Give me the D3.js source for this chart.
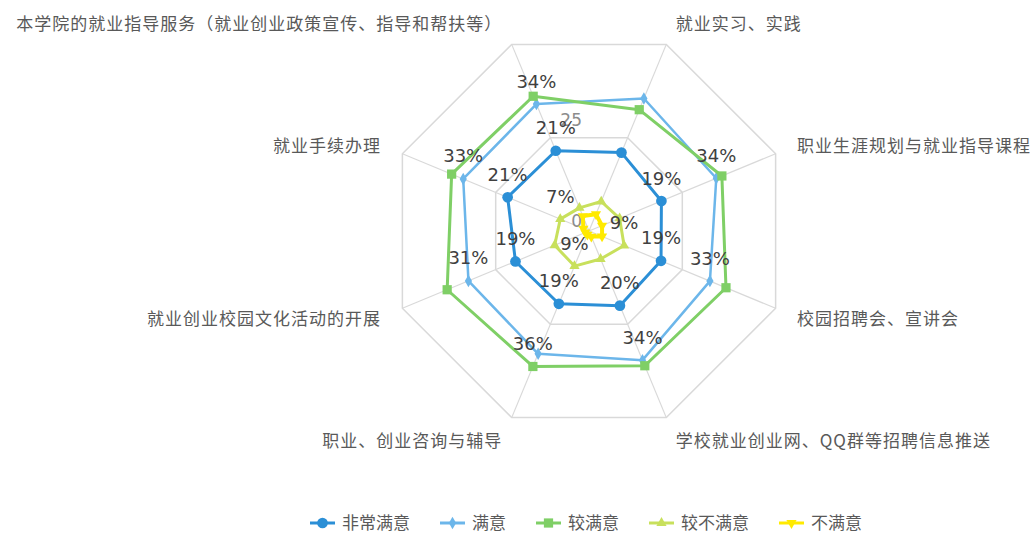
<!DOCTYPE html>
<html>
<head>
<meta charset="utf-8">
<script src="https://cdn.jsdelivr.net/npm/d3@7"></script>
<style>
  body { margin: 0; background: #fff; }
  .grid { fill: none; stroke: #d9d9d9; stroke-width: 1.5; }
  .axis { stroke: #d9d9d9; stroke-width: 1.2; }
  .cat { font-family: "Noto Sans CJK SC", sans-serif; font-size: 17px; fill: #595959; letter-spacing: 1px; }
  .val { font-family: "DejaVu Sans", sans-serif; font-size: 18px; fill: #404040; }
  .tick { font-family: "DejaVu Sans", sans-serif; font-size: 17px; fill: #8c8c8c; }
  .legend text { font-family: "Noto Sans CJK SC", sans-serif; font-size: 17px; fill: #595959; }
</style>
</head>
<body>
<svg width="1033" height="533"></svg>
<script>
const categories = [
  "本学院的就业指导服务（就业创业政策宣传、指导和帮扶等）",
  "就业实习、实践",
  "职业生涯规划与就业指导课程",
  "校园招聘会、宣讲会",
  "学校就业创业网、QQ群等招聘信息推送",
  "职业、创业咨询与辅导",
  "就业创业校园文化活动的开展",
  "就业手续办理"
];

const seriesNames = ["非常满意", "满意", "较满意", "较不满意", "不满意"];

const veryValues      = [21.5, 21.0, 19.4, 19.3, 20.0, 19.5, 19.7, 21.8];
const satisfiedValues = [34.0, 35.5, 34.1, 32.4, 34.6, 32.9, 32.3, 33.7];
const fairValues      = [36.1, 32.5, 35.6, 36.7, 36.1, 36.3, 38.0, 36.8];
const lowValues       = [6.2, 7.9, 8.2, 9.4, 7.5, 9.4, 9.2, 7.7];
const unsatValues     = [4.0, 4.5, 3.5, 3.5, 1.5, 1.0, 1.0, 1.5];

// data labels as printed on the chart (null = not shown)
const veryLabels      = ["21%", null, "19%", "19%", "20%", "19%", "19%", "21%"];
const satisfiedLabels = ["34%", null, "34%", "33%", "34%", null, "31%", "33%"];
const fairLabels      = [null, null, null, null, null, "36%", null, null];
const lowLabels       = [null, null, null, "9%", null, "9%", null, "7%"];
const unsatLabels     = [null, null, null, null, null, null, null, null];

const gridValues = [25, 50];
const tickValues = [0, 25];

const svg = d3.select("svg");
const cx = 589, cy = 231;

const r = d3.scaleLinear().domain([0, 50]).range([0, 202]);
const angle = d3.scaleLinear()
  .domain([0, categories.length])
  .range([-Math.PI / 8, 2 * Math.PI - Math.PI / 8]);

const series = [
  {name: seriesNames[0], values: veryValues,      labels: veryLabels,      color: "#2b8fd6", width: 3,   symbol: d3.symbolCircle,   size: 90},
  {name: seriesNames[1], values: satisfiedValues, labels: satisfiedLabels, color: "#6cb6ea", width: 2.5, symbol: d3.symbolDiamond,  size: 45},
  {name: seriesNames[2], values: fairValues,      labels: fairLabels,      color: "#7fcf66", width: 3,   symbol: d3.symbolSquare,   size: 85},
  {name: seriesNames[3], values: lowValues,       labels: lowLabels,       color: "#c8e05c", width: 3,   symbol: d3.symbolTriangle, size: 45},
  {name: seriesNames[4], values: unsatValues,     labels: unsatLabels,     color: "#ffea00", width: 4,   symbol: d3.symbolTriangle, size: 45, flip: true}
];

function px(i, v) { return cx + r(v) * Math.sin(angle(i)); }
function py(i, v) { return cy - r(v) * Math.cos(angle(i)); }

const g = svg.append("g");

// gridlines
const ring = d3.lineRadial()
  .angle((d, i) => angle(i))
  .radius(d => r(d))
  .curve(d3.curveLinearClosed);

g.selectAll("path.grid")
  .data(gridValues)
  .enter()
  .append("path")
  .attr("class", "grid")
  .attr("transform", `translate(${cx},${cy})`)
  .attr("d", v => ring(categories.map(() => v)));

g.selectAll("line.axis")
  .data(categories)
  .enter()
  .append("line")
  .attr("class", "axis")
  .attr("x1", cx).attr("y1", cy)
  .attr("x2", (d, i) => px(i, 50))
  .attr("y2", (d, i) => py(i, 50));

// value axis labels
g.selectAll("text.tick")
  .data(tickValues)
  .enter()
  .append("text")
  .attr("class", "tick")
  .attr("text-anchor", "end")
  .attr("dominant-baseline", "central")
  .attr("x", cx - 7)
  .attr("y", d => cy - r(d) - 10)
  .text(d => d);

// category labels
g.selectAll("text.cat")
  .data(categories)
  .enter()
  .append("text")
  .attr("class", "cat")
  .attr("text-anchor", (d, i) => Math.sin(angle(i)) > 0 ? "start" : "end")
  .attr("dominant-baseline", "central")
  .attr("x", (d, i) => {
    const s = Math.sin(angle(i));
    return px(i, 50) + Math.sign(s) * (1 + 22 * Math.abs(s));
  })
  .attr("y", (d, i) => py(i, 50) - 24 * Math.cos(angle(i)))
  .text(d => d);

// series
series.forEach(function(s) {
  g.append("path")
    .datum(s.values)
    .attr("transform", `translate(${cx},${cy})`)
    .attr("fill", "none")
    .attr("stroke", s.color)
    .attr("stroke-width", s.width)
    .attr("stroke-linejoin", "round")
    .attr("d", ring);

  g.selectAll(null)
    .data(s.values)
    .enter()
    .append("path")
    .attr("fill", s.color)
    .attr("transform", (d, i) => `translate(${px(i, d)},${py(i, d)})` + (s.flip ? " rotate(180)" : ""))
    .attr("d", d3.symbol().type(s.symbol).size(s.size));
});

// data labels
series.forEach(function(s) {
  g.selectAll(null)
    .data(s.values.map((v, i) => ({v: v, i: i, label: s.labels[i]})).filter(d => d.label))
    .enter()
    .append("text")
    .attr("class", "val")
    .attr("text-anchor", "middle")
    .attr("dominant-baseline", "central")
    .attr("x", d => px(d.i, d.v))
    .attr("y", d => py(d.i, d.v) - 23)
    .text(d => d.label);
});

// legend
const legend = svg.append("g").attr("class", "legend");
let lx = 0;
series.forEach(function(s) {
  const item = legend.append("g").attr("transform", `translate(${lx},0)`);
  item.append("line")
    .attr("x1", 0).attr("x2", 25)
    .attr("stroke", s.color)
    .attr("stroke-width", 3);
  item.append("path")
    .attr("fill", s.color)
    .attr("transform", "translate(12.5,0)" + (s.flip ? " rotate(180)" : ""))
    .attr("d", d3.symbol().type(s.symbol).size(s.size));
  const t = item.append("text")
    .attr("x", 32)
    .attr("y", 6)
    .text(s.name);
  lx += 32 + t.node().getComputedTextLength() + 30;
});
lx -= 30;
legend.attr("transform", `translate(${cx - 3 - lx / 2},523)`);
</script>
</body>
</html>
